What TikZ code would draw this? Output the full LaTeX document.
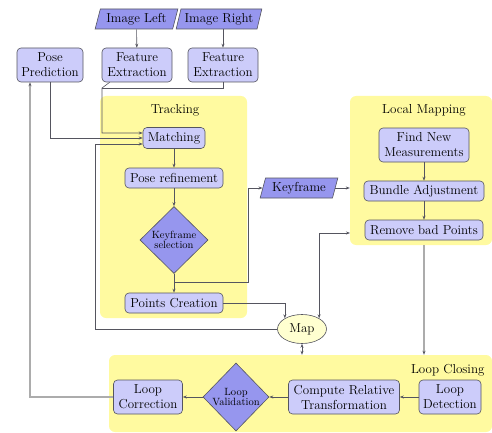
\documentclass[tikz,border=0pt]{standalone}
\usetikzlibrary{shapes.geometric,arrows.meta}
\definecolor{boxfill}{RGB}{204,204,250}
\definecolor{darkfill}{RGB}{150,150,238}
\definecolor{regfill}{RGB}{255,250,160}
\definecolor{mapfill}{RGB}{255,255,208}
\definecolor{edgec}{RGB}{85,85,95}
\tikzset{
  mainfont/.style={font=\fontsize{13}{15}\selectfont},
  proc/.style={draw=edgec, fill=boxfill, rounded corners=4pt, align=center, inner sep=1pt, mainfont, line width=0.6pt},
  dec/.style={diamond, draw=edgec, fill=darkfill, align=center, inner sep=0pt, font=\fontsize{10.5}{10}\selectfont, line width=0.6pt},
  io/.style={trapezium, trapezium left angle=72, trapezium right angle=108, trapezium stretches=true, draw=edgec, fill=darkfill, mainfont, inner sep=1pt, line width=0.6pt},
  region/.style={fill=regfill, rounded corners=6pt, inner sep=0pt},
  tip/.tip={Stealth[length=4pt,width=3pt,color=edgec]},
  arr/.style={draw=edgec, line width=0.6pt, -tip},
  darr/.style={draw=edgec, line width=0.6pt, tip-tip},
  heavy/.style={draw=gray!65, line width=1.2pt, -tip},
  plain/.style={draw=edgec, line width=0.6pt},
}
\begin{document}
\begin{tikzpicture}[x=1pt,y=-1pt]
\useasboundingbox (0,0) rectangle (492,433);
% regions
\node[region, minimum width=147pt, minimum height=222pt] (trk) at (173.5,207) {};
\node[region, minimum width=142pt, minimum height=149pt] (lm) at (421,170.5) {};
\node[region, minimum width=383pt, minimum height=77pt] (lc) at (300.5,393.5) {};
\node[mainfont] (trkl) at (175,110) {Tracking};
\node[mainfont] (lml) at (424,110) {Local Mapping};
\node[mainfont, anchor=east] (lcl) at (488,370) {Loop Closing};
% inputs
\node[io, minimum width=83pt, minimum height=20pt] (imgL) at (136.5,19) {Image Left};
\node[io, minimum width=86pt, minimum height=20pt] (imgR) at (219,19) {Image Right};
% top boxes
\node[proc, minimum width=66pt, minimum height=34pt] (pp) at (50,65) {Pose\\Prediction};
\node[proc, minimum width=70pt, minimum height=34pt] (fe1) at (137,65) {Feature\\Extraction};
\node[proc, minimum width=70pt, minimum height=34pt] (fe2) at (223,65) {Feature\\Extraction};
% tracking
\node[proc, minimum width=62pt, minimum height=21pt] (match) at (174,138) {Matching};
\node[proc, minimum width=98pt, minimum height=20pt] (pr) at (174,178) {Pose refinement};
\node[dec, minimum width=68pt, minimum height=67pt] (ks) at (174,240) {Keyframe\\selection};
\node[proc, minimum width=98pt, minimum height=20pt] (pc) at (174,303) {Points Creation};
\node[io, minimum width=78pt, minimum height=20pt] (kf) at (299,188) {Keyframe};
% local mapping
\node[proc, minimum width=90pt, minimum height=34pt] (fnm) at (424,145) {Find New\\Measurements};
\node[proc, minimum width=120pt, minimum height=20pt] (ba) at (424,191) {Bundle Adjustment};
\node[proc, minimum width=118pt, minimum height=20pt] (rbp) at (424,230) {Remove bad Points};
% map
\node[ellipse, draw=edgec, fill=mapfill, minimum width=49pt, minimum height=29pt, inner sep=0pt, mainfont, line width=0.6pt] (map) at (302,329) {Map};
% loop closing
\node[proc, minimum width=62pt, minimum height=34pt] (ld) at (450,397) {Loop\\Detection};
\node[proc, minimum width=111pt, minimum height=34pt] (crt) at (344,397) {Compute Relative\\Transformation};
\node[dec, minimum width=66pt, minimum height=68pt] (lv) at (236,397) {Loop\\Validation};
\node[proc, minimum width=69pt, minimum height=34pt] (lcor) at (148,397) {Loop\\Correction};
% coordinates
\coordinate (j) at (102,88);
\coordinate (lk) at (95,329);
\coordinate (kb) at (174,282);
\coordinate (kc) at (248,282);
\coordinate (lmc) at (350,233);
% connectors
\draw[arr] (imgL) -- (fe1);
\draw[arr] (fe2.north |- imgR.south) -- (fe2.north);
\draw[arr] ([xshift=8pt]fe1.south west) -- (j) |- ([yshift=5pt]match.west);
\draw[plain] (fe2.south) |- (j);
\draw[arr] (pp.south) |- (match.west);
\draw[arr] (map.west) -- (lk) |- ([yshift=-6pt]match.west);
\draw[arr] (match) -- (pr);
\draw[arr] (pr) -- (ks);
\draw[arr] (ks) -- (pc);
\draw[arr] (kb) -- (kc) |- (kf.west);
\draw[arr] (kf.east) -- (kf.east -| lm.west);
\draw[arr] (fnm) -- (ba);
\draw[arr] (ba) -- (rbp);
\draw[arr] (pc.east) -| (map.148);
\draw[darr] (map.32) |- (lmc);
\draw[darr] (map.south) -- (map.south |- lc.north);
\draw[heavy] (rbp.south |- lm.south) -- (rbp.south |- lc.north);
\draw[arr] (ld) -- (crt);
\draw[arr] (crt) -- (lv);
\draw[arr] (lv) -- (lcor);
\draw[heavy] (lcor.west) -| ([xshift=-20pt]pp.south);
\end{tikzpicture}
\end{document}
